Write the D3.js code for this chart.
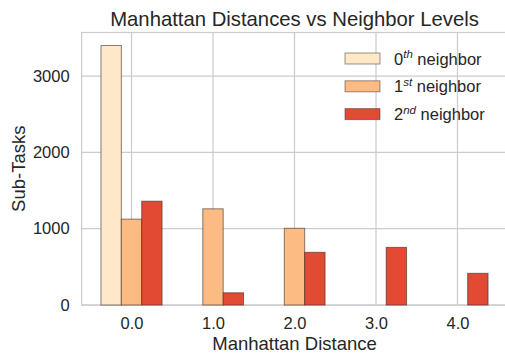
<!DOCTYPE html>
<html>
<head>
<meta charset="utf-8">
<script src="https://cdn.jsdelivr.net/npm/d3@7"></script>
<style>
  body { margin: 0; background: #fff; }
  text { font-family: "Liberation Sans", Arial, sans-serif; fill: #262626; }
</style>
</head>
<body>
<div id="chart"></div>
<script>
const distances = [0, 1, 2, 3, 4];
const neighborLevels = ["0", "1", "2"];
const levelSuffix = ["th", "st", "nd"];
const neighbor0 = [3400, 0, 0, 0, 0];
const neighbor1 = [1125, 1260, 1005, 0, 0];
const neighbor2 = [1360, 160, 690, 755, 415];
const yTicks = [0, 1000, 2000, 3000];
const colors = ["#fee8c8", "#fdbb84", "#e34a33"];

const width = 505, height = 354;
const margin = { left: 81.6, top: 32.5, right: -2.4, bottom: 49 };
const innerW = width - margin.left - margin.right;
const innerH = height - margin.top - margin.bottom;

const series = [neighbor0, neighbor1, neighbor2];
const barW = 0.25;

const x = d3.scaleLinear().domain([-0.6125, 4.6125]).range([0, innerW]);
const y = d3.scaleLinear().domain([0, 3570]).range([innerH, 0]);

const svg = d3.select("#chart").append("svg")
    .attr("width", width)
    .attr("height", height);

const g = svg.append("g")
    .attr("transform", "translate(" + margin.left + "," + margin.top + ")");

// grid
g.selectAll(".vgrid").data(distances).enter().append("line")
    .attr("x1", d => x(d)).attr("x2", d => x(d))
    .attr("y1", 0).attr("y2", innerH)
    .attr("stroke", "#cccccc").attr("stroke-width", 1.25);
g.selectAll(".hgrid").data(yTicks).enter().append("line")
    .attr("x1", 0).attr("x2", innerW)
    .attr("y1", d => y(d)).attr("y2", d => y(d))
    .attr("stroke", "#cccccc").attr("stroke-width", 1.25);

// frame
g.append("rect")
    .attr("x", 0).attr("y", 0)
    .attr("width", innerW).attr("height", innerH)
    .attr("fill", "none").attr("stroke", "#cccccc").attr("stroke-width", 1.25);

// bars
series.forEach((vals, s) => {
    g.selectAll(".bar" + s)
        .data(distances.map((d, i) => ({ d: d, v: vals[i] })).filter(e => e.v > 0))
        .enter().append("rect")
        .attr("x", e => x(e.d + (s - 1) * barW - barW / 2))
        .attr("width", x(barW) - x(0))
        .attr("y", e => y(e.v))
        .attr("height", e => innerH - y(e.v))
        .attr("fill", colors[s])
        .attr("stroke", "#3a2a25").attr("stroke-opacity", 0.6).attr("stroke-width", 1);
});

// axes
const xAxis = g.append("g")
    .attr("transform", "translate(0," + innerH + ")")
    .call(d3.axisBottom(x).tickValues(distances).tickFormat(d3.format(".1f")).tickSize(0).tickPadding(12));
const yAxis = g.append("g")
    .call(d3.axisLeft(y).tickValues(yTicks).tickFormat(d3.format("d")).tickSize(0).tickPadding(12));
[xAxis, yAxis].forEach(a => {
    a.select(".domain").remove();
    a.selectAll("text").style("font-size", "16.5px").attr("fill", "#262626")
        .style("font-family", "'Liberation Sans', Arial, sans-serif");
});

// title and labels
svg.append("text")
    .attr("x", margin.left + innerW / 2).attr("y", 26)
    .attr("text-anchor", "middle").style("font-size", "20.3px")
    .text("Manhattan Distances vs Neighbor Levels");
svg.append("text")
    .attr("x", margin.left + innerW / 2).attr("y", 350)
    .attr("text-anchor", "middle").style("font-size", "18.5px")
    .text("Manhattan Distance");
svg.append("text")
    .attr("transform", "translate(25," + (margin.top + innerH / 2) + ") rotate(-90)")
    .attr("text-anchor", "middle").style("font-size", "18.5px")
    .text("Sub-Tasks");

// legend
const legend = svg.append("g");
neighborLevels.forEach((lvl, i) => {
    const cy = 58.5 + i * 27.8;
    legend.append("rect")
        .attr("x", 345).attr("y", cy - 5.5)
        .attr("width", 35).attr("height", 11)
        .attr("fill", colors[i])
        .attr("stroke", "#3a2a25").attr("stroke-opacity", 0.5).attr("stroke-width", 1);
    const t = legend.append("text")
        .attr("x", 394).attr("y", cy + 6)
        .style("font-size", "16.5px");
    t.append("tspan").text(lvl);
    t.append("tspan").attr("dy", -6.5).style("font-size", "11.5px").style("font-style", "italic").text(levelSuffix[i]);
    t.append("tspan").attr("dy", 6.5).text("\u00a0neighbor");
});
</script>
</body>
</html>
